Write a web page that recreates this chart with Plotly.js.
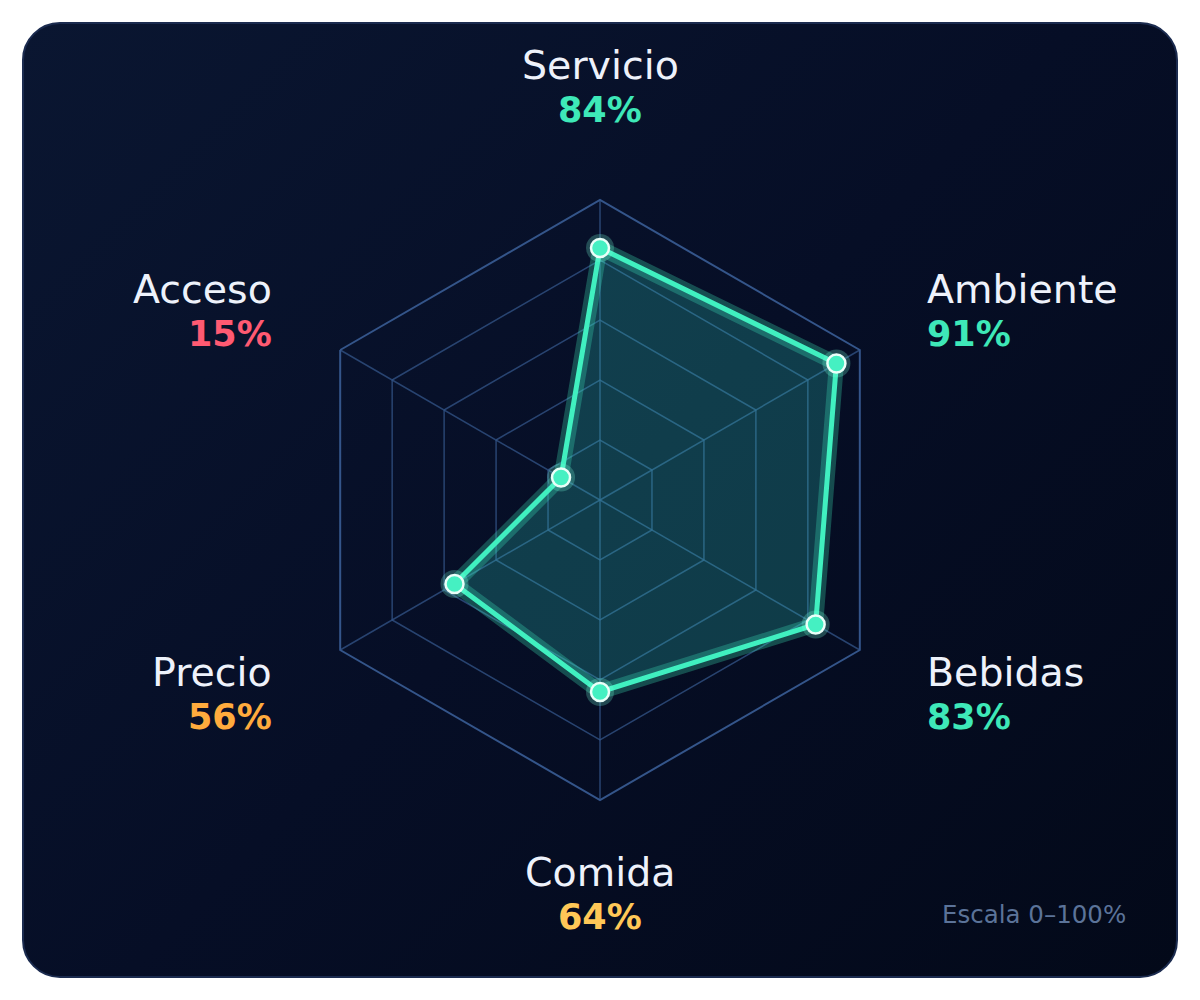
<!DOCTYPE html>
<html>
<head>
<meta charset="utf-8">
<script src="https://cdn.plot.ly/plotly-3.0.1.min.js"></script>
<style>
  html, body { margin: 0; padding: 0; background: #ffffff; }
  #card {
    position: absolute; left: 22px; top: 22px; width: 1152px; height: 952px;
    border-radius: 38px; border: 2px solid #1b2b4f;
    background: linear-gradient(135deg, #0a1631 0%, #060e26 50%, #030919 100%);
  }
  #graph { position: absolute; left: 0; top: 0; width: 1200px; height: 1000px; }
</style>
</head>
<body>
<div id="card"></div>
<div id="graph"></div>
<script>
// categories clockwise from the top
const categories = ['Servicio', 'Ambiente', 'Bebidas', 'Comida', 'Precio', 'Acceso']
const scores = [84, 91, 83, 64, 56, 15]
const scoreColors = ['#3ee8b8', '#3ee8b8', '#3ee8b8', '#ffc857', '#ffab3d', '#ff5a72']
const ringValues = [20, 40, 60, 80, 100]
const scaleNote = 'Escala 0–100%'

const W = 1200, H = 1000
const cx = 600, cy = 500, R = 300

// closed loop for the polygon
const theta = categories.concat(categories[0])
const r = scores.concat(scores[0])

const teal = '#40f0c0'

let data = [
    {   // soft glow under the line
        type: 'scatterpolar',
        mode: 'lines',
        r: r, theta: theta,
        line: {color: 'rgba(64,240,192,0.28)', width: 15},
        hoverinfo: 'skip'
    },
    {
        type: 'scatterpolar',
        mode: 'lines',
        r: r, theta: theta,
        fill: 'toself',
        fillcolor: 'rgba(50,215,195,0.24)',
        line: {color: teal, width: 5},
        hoverinfo: 'skip'
    },
    {   // halo around points
        type: 'scatterpolar',
        mode: 'markers',
        r: scores, theta: categories,
        marker: {color: 'rgba(120,255,220,0.25)', size: 28},
        hoverinfo: 'skip'
    },
    {
        type: 'scatterpolar',
        mode: 'markers',
        r: scores, theta: categories,
        marker: {color: '#45f0c2', size: 18, line: {color: '#eafff9', width: 2.5}},
        hoverinfo: 'skip'
    }
]

// label placement around the hexagon
function labelBox(i) {
    const ang = Math.PI / 2 - i * Math.PI / 3
    const dx = Math.cos(ang), dy = Math.sin(ang)
    if (Math.abs(dx) < 0.01) {
        const y = dy > 0 ? cy - 412 : cy + 395
        return {x: cx, y: y, anchor: 'center'}
    }
    const x = dx > 0 ? cx + 325 : cx - 326
    const y = dy > 0 ? cy - 188 : cy + 195
    return {x: x, y: y, anchor: dx > 0 ? 'left' : 'right'}
}

let annotations = []
categories.forEach((name, i) => {
    const b = labelBox(i)
    annotations.push({
        xref: 'paper', yref: 'paper',
        x: b.x / W, y: 1 - (b.y - 23) / H,
        xanchor: b.anchor, yanchor: 'middle',
        text: name, showarrow: false,
        font: {family: 'DejaVu Sans', size: 39.5, color: '#eef2fb'}
    })
    annotations.push({
        xref: 'paper', yref: 'paper',
        x: b.x / W, y: 1 - (b.y + 22) / H,
        xanchor: b.anchor, yanchor: 'middle',
        text: '<b>' + scores[i] + '%</b>', showarrow: false,
        font: {family: 'DejaVu Sans', size: 35, color: scoreColors[i]}
    })
})
annotations.push({
    xref: 'paper', yref: 'paper',
    x: 1128 / W, y: 1 - 914 / H,
    xanchor: 'right', yanchor: 'middle',
    text: scaleNote, showarrow: false,
    font: {family: 'DejaVu Sans', size: 24.5, color: '#5b7399'}
})

let layout = {
    width: W, height: H,
    margin: {l: 0, r: 0, t: 0, b: 0},
    paper_bgcolor: 'rgba(0,0,0,0)',
    plot_bgcolor: 'rgba(0,0,0,0)',
    showlegend: false,
    polar: {
        domain: {x: [(cx - R) / W, (cx + R) / W], y: [1 - (cy + R) / H, 1 - (cy - R) / H]},
        bgcolor: 'rgba(0,0,0,0)',
        gridshape: 'linear',
        radialaxis: {
            range: [0, 100],
            tickvals: ringValues,
            showticklabels: false,
            ticks: '',
            showline: false,
            gridcolor: 'rgba(52,86,138,0.75)',
            gridwidth: 1.5
        },
        angularaxis: {
            categoryorder: 'array',
            categoryarray: categories,
            rotation: 90,
            direction: 'clockwise',
            showticklabels: false,
            ticks: '',
            showline: true,
            linecolor: '#34558a',
            linewidth: 2,
            gridcolor: 'rgba(52,86,138,0.75)',
            gridwidth: 1.5
        }
    },
    annotations: annotations
}

Plotly.newPlot('graph', data, layout, {displayModeBar: false, staticPlot: true})
</script>
</body>
</html>
